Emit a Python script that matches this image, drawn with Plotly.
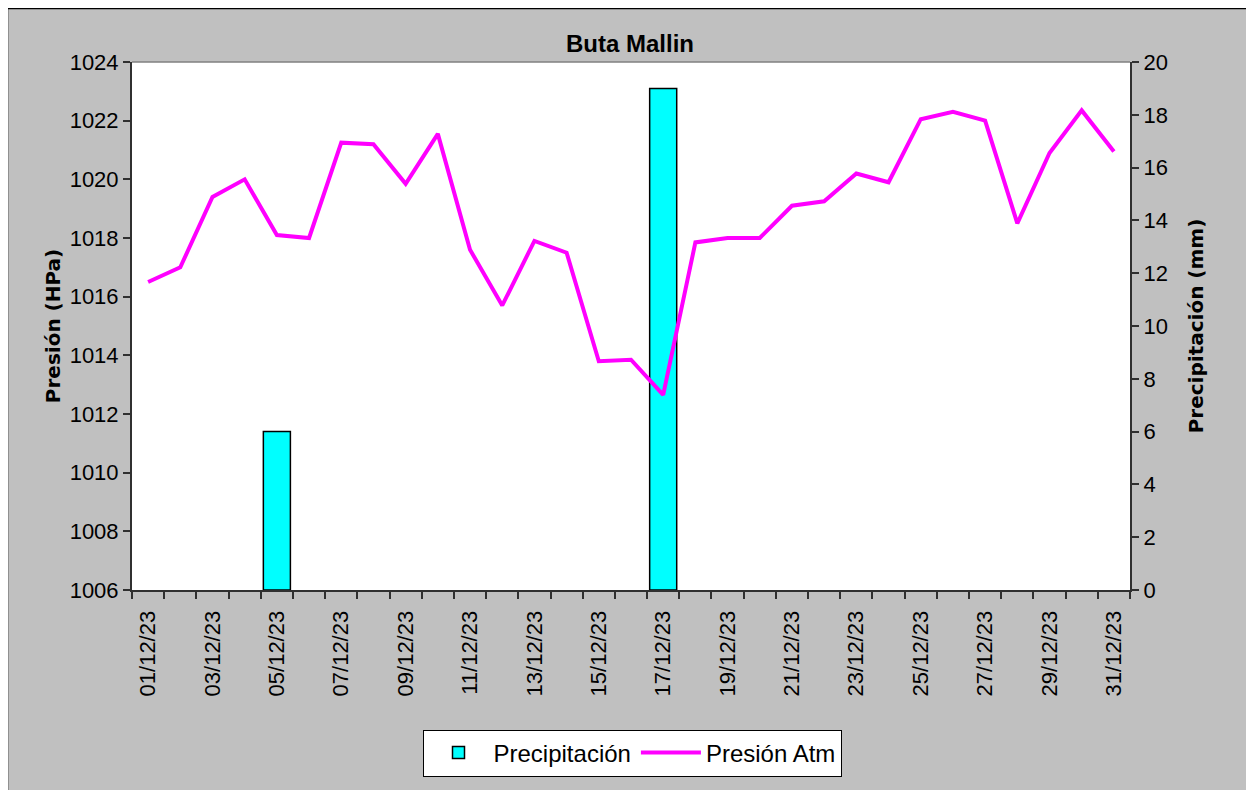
import plotly.graph_objects as go

dates = [f"{d:02d}/12/23" for d in range(1, 32)]
days = list(range(1, 32))
presion = [1016.5, 1017.0, 1019.4, 1020.0, 1018.1, 1018.0, 1021.25, 1021.2, 1019.85, 1021.55,
           1017.6, 1015.7, 1017.9, 1017.5, 1013.8, 1013.85, 1012.65, 1017.85, 1018.0, 1018.0,
           1019.1, 1019.25, 1020.2, 1019.9, 1022.05, 1022.3, 1022.0, 1018.5, 1020.9, 1022.35, 1020.95]
precip = [0, 0, 0, 0, 6.0, 0, 0, 0, 0, 0,
          0, 0, 0, 0, 0, 0, 19.0, 0, 0, 0,
          0, 0, 0, 0, 0, 0, 0, 0, 0, 0, 0]
tick_days = days[::2]
tick_labels = dates[::2]

# page body has an 8px offset; work in reference pixel coords minus 8
OFF = 8
W, H = 1254 - OFF, 790 - OFF
L, R, T, B = 132 - OFF, 1130 - OFF, 62 - OFF, 590 - OFF

# Excel does not draw zero-height bars
precip_drawn = [v if v > 0 else None for v in precip]

fig = go.Figure()
fig.add_trace(go.Bar(
    x=days, y=precip_drawn, name="Precipitación", yaxis="y",
    marker=dict(color="#00FFFF", line=dict(color="black", width=1.5)),
    width=0.84,
))
fig.add_trace(go.Scatter(
    x=days, y=presion, name="Presión Atm", yaxis="y2", mode="lines",
    line=dict(color="#FF00FF", width=4),
))

def px_x(p):
    return (p - OFF - L) / (R - L)

def px_y(p):
    return (B - (p - OFF)) / (B - T)

fig.update_layout(
    width=W, height=H,
    margin=dict(l=L, r=W - R, t=T, b=H - B, autoexpand=False),
    paper_bgcolor="#C0C0C0", plot_bgcolor="white",
    font=dict(family="Liberation Sans, Arial", size=22, color="black"),
    title=dict(text="<b>Buta Mallin</b>", x=(630 - OFF) / W, xanchor="center",
               y=1 - (44 - OFF) / H, yanchor="middle",
               font=dict(family="Liberation Sans, Arial", size=24, color="black")),
    showlegend=True,
    legend=dict(orientation="h", x=px_x(632), xanchor="center", y=px_y(753), yanchor="middle",
                bgcolor="white", bordercolor="black", borderwidth=1,
                font=dict(size=24), itemwidth=60, traceorder="normal"),
    bargap=0.16,
    xaxis=dict(range=[0.5, 31.5], tickmode="array", tickvals=tick_days, ticktext=tick_labels,
               tickangle=-90, ticks="", showgrid=False, zeroline=False,
               showline=True, linecolor="#303030", linewidth=2, ticklabelstandoff=10,
               minor=dict(tick0=0.5, dtick=1, ticks="outside", ticklen=7, tickcolor="#303030",
                          tickwidth=1.5, showgrid=False),
               tickfont=dict(size=22)),
    yaxis=dict(range=[0, 20], dtick=2, side="right", ticks="outside", ticklen=7,
               tickcolor="#303030", tickwidth=1.5, showgrid=False, zeroline=False,
               showline=True, linecolor="#303030", linewidth=2,
               title=dict(text="<b>Precipitación (mm)</b>", standoff=22,
                          font=dict(family="DejaVu Sans", size=20)),
               tickfont=dict(size=22)),
    yaxis2=dict(range=[1006, 1024], dtick=2, side="left", overlaying="y", ticks="outside",
                ticklen=7, tickcolor="#303030", tickwidth=1.5, showgrid=False, zeroline=False,
                showline=True, linecolor="#303030", linewidth=2,
                title=dict(text="<b>Presión (HPa)</b>", standoff=4,
                           font=dict(family="DejaVu Sans", size=20)),
                tickfont=dict(size=22)),
    shapes=[
        dict(type="line", xref="paper", yref="paper", x0=0, x1=1, y0=1, y1=1,
             line=dict(color="#808080", width=1.5)),
        dict(type="rect", xref="paper", yref="paper",
             x0=px_x(7.5), x1=px_x(1252.5), y0=px_y(8.5), y1=px_y(810),
             line=dict(color="black", width=1.5), layer="below"),
    ],
)

fig.write_html("out.html")
